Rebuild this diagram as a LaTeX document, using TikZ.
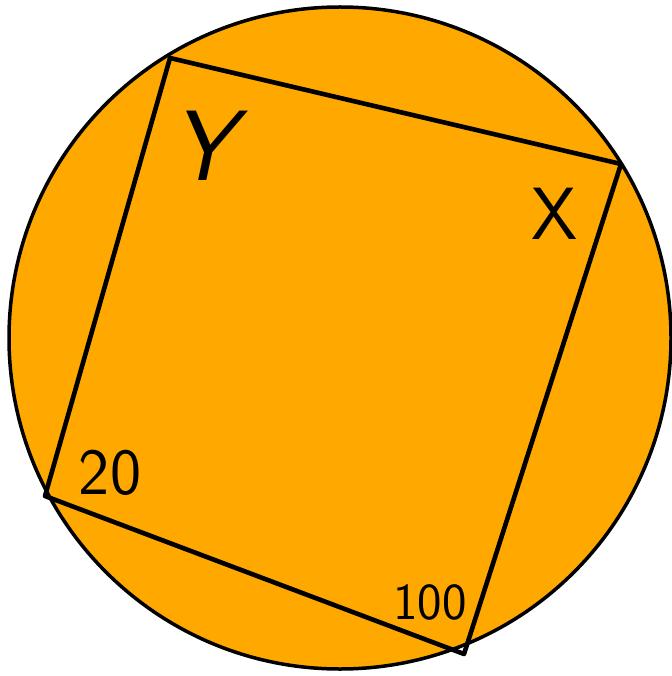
\documentclass[tikz,border=0pt]{standalone}
\begin{document}
\begin{tikzpicture}[x=1pt,y=-1pt,line join=round,
  lbl/.style={font=\sffamily, inner sep=0pt, text=black}]
\definecolor{fillor}{RGB}{255,168,0}
\useasboundingbox (0,0) rectangle (671,676);
\node[circle, draw, line width=3.5pt, fill=fillor, minimum size=662pt, inner sep=0pt] (circ) at (340,338) {};
\coordinate (A) at (170,58);
\coordinate (B) at (621,164);
\coordinate (C) at (464,654);
\coordinate (D) at (45,496);
\draw[line width=4.6pt] (A) -- (B) -- (C) -- (D) -- cycle;
\node[lbl, font=\sffamily\itshape\fontsize{100}{100}\selectfont] (ly) at (203,146) {Y};
\node[lbl, font=\sffamily\fontsize{74}{74}\selectfont] (lx) at (555,214) {X};
\node[lbl, font=\sffamily\fontsize{66}{66}\selectfont] (l20) at (110,473) {20};
\node[lbl, font=\sffamily\fontsize{52}{52}\selectfont] (l100) at (430,602) {100};
\end{tikzpicture}
\end{document}
